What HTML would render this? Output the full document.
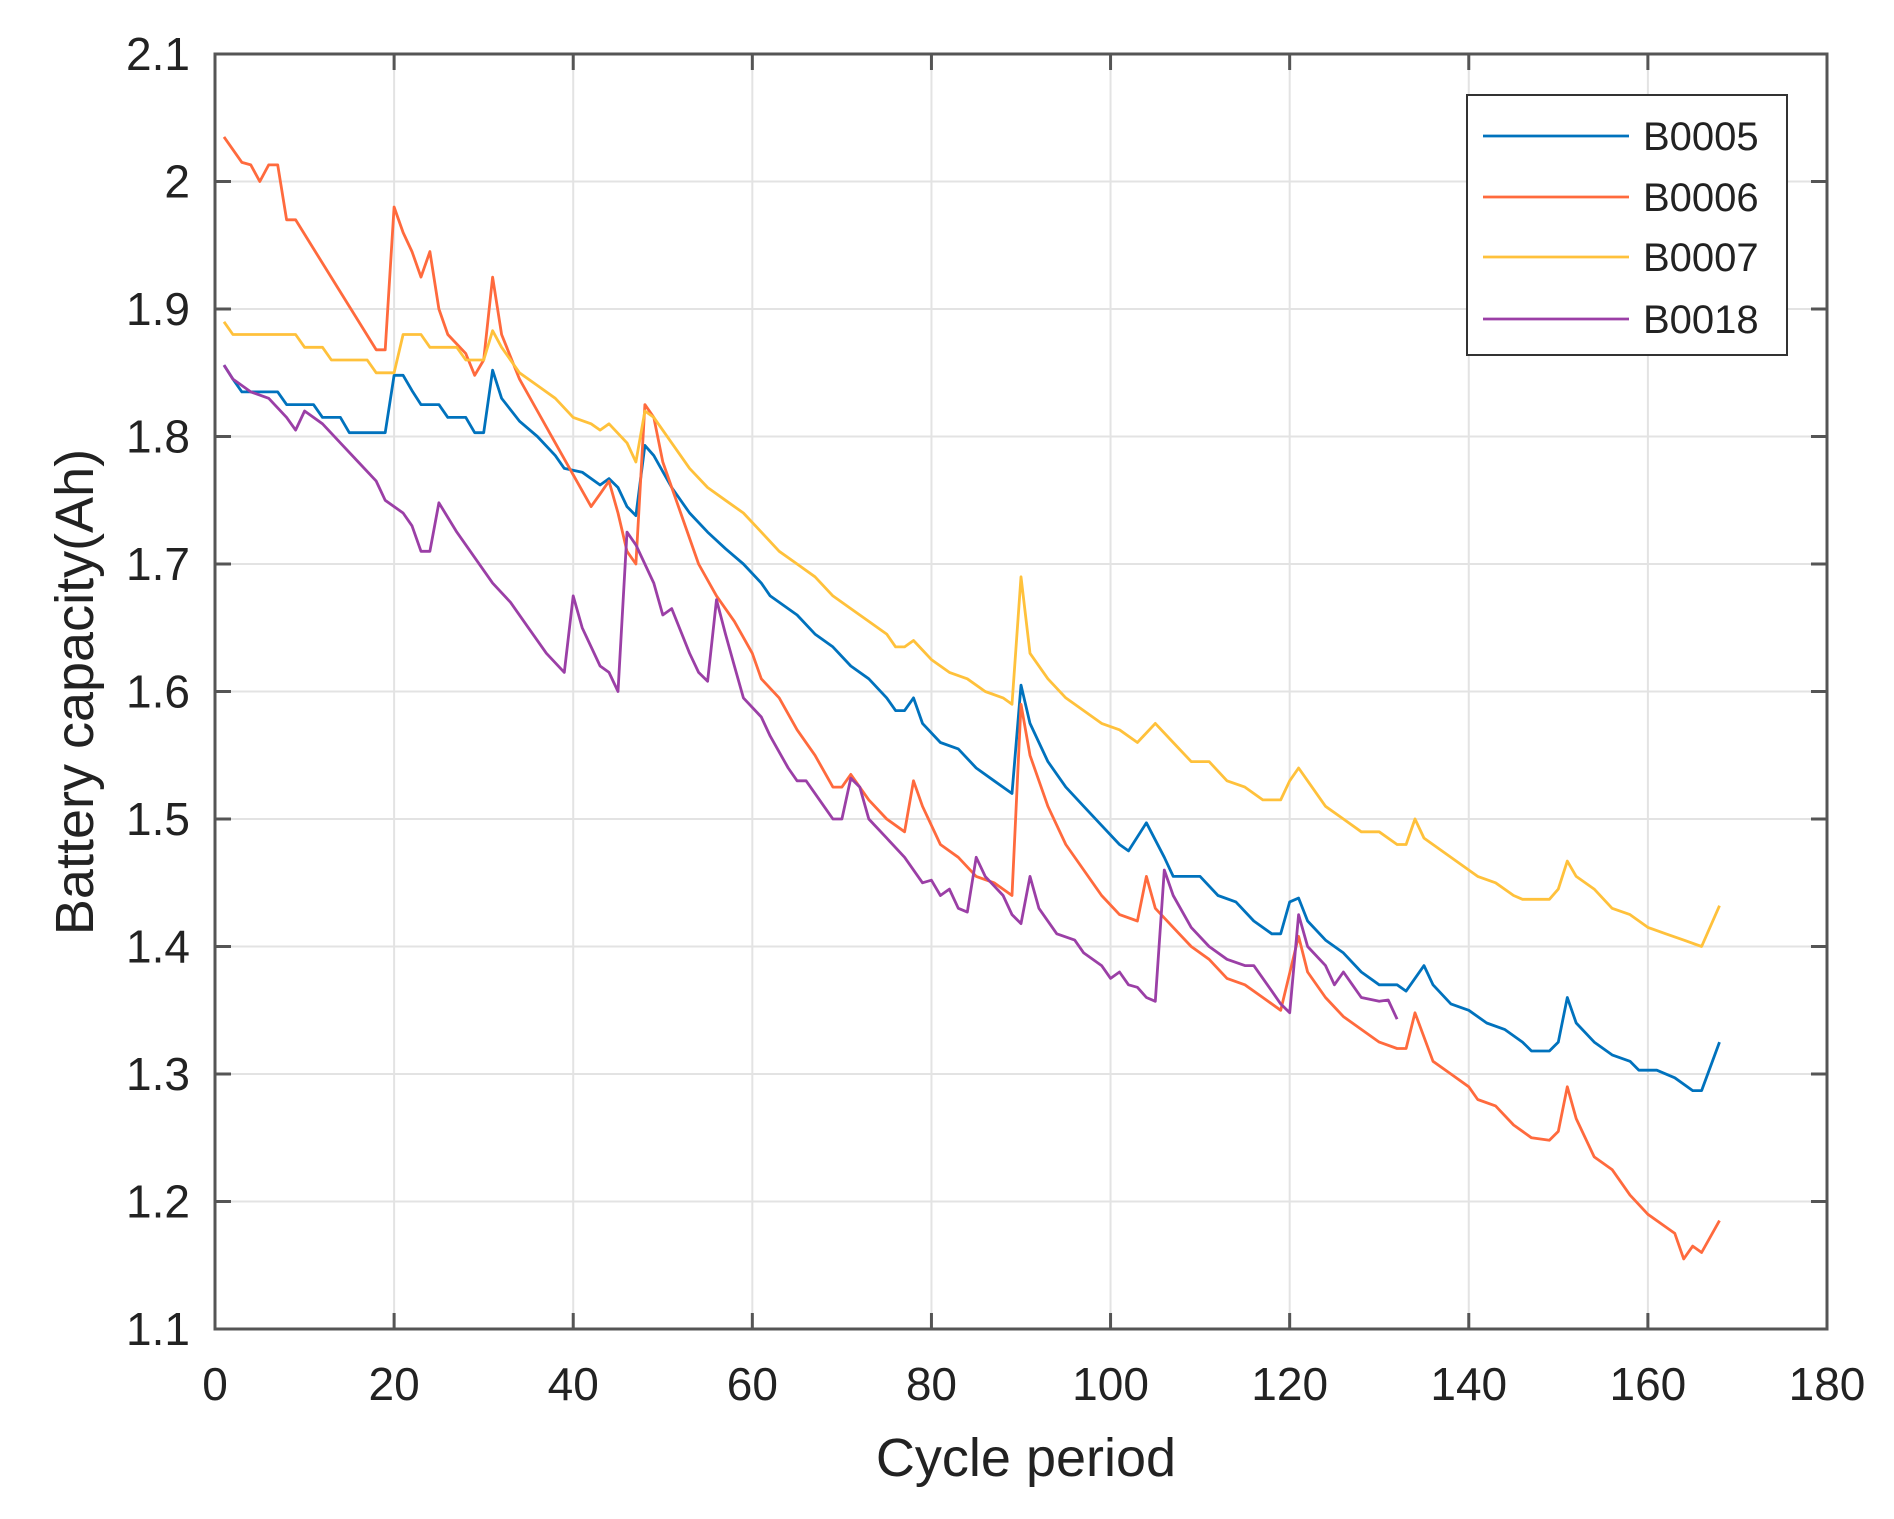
<!DOCTYPE html>
<html><head><meta charset="utf-8"><style>
html,body{margin:0;padding:0;background:#fff;}
svg{display:block;font-family:"Liberation Sans",Arial,sans-serif;}
</style></head><body>
<svg id="chart" width="1894" height="1519" viewBox="0 0 1894 1519" xmlns="http://www.w3.org/2000/svg">
<g id="grid"></g>
<g id="series"></g>
<g id="axes"></g>
<text x="1026" y="1476" font-size="54" text-anchor="middle" fill="#222">Cycle period</text>
<text transform="translate(93,692) rotate(-90)" font-size="54" text-anchor="middle" fill="#222">Battery capacity(Ah)</text>
<g id="legend"></g>
</svg>
<script>
const xTicks = [0,20,40,60,80,100,120,140,160,180];
const yTicks = [1.1,1.2,1.3,1.4,1.5,1.6,1.7,1.8,1.9,2.0,2.1];
const yTickLabels = ["1.1","1.2","1.3","1.4","1.5","1.6","1.7","1.8","1.9","2","2.1"];
const seriesNames = ["B0005","B0006","B0007","B0018"];
const b0005Cycles = [1,2,3,7,8,11,12,14,15,19,20,21,22,23,25,26,28,29,30,31,32,34,36,38,39,41,43,44,45,46,47,48,49,51,53,55,57,59,61,62,65,67,69,71,73,75,76,77,78,79,81,83,85,87,89,90,91,93,95,97,99,101,102,104,106,107,110,112,114,116,118,119,120,121,122,124,126,128,130,132,133,135,136,138,140,142,144,146,147,149,150,151,152,154,156,158,159,161,163,165,166,168];
const b0005Values = [1.856,1.845,1.835,1.835,1.825,1.825,1.815,1.815,1.803,1.803,1.848,1.848,1.836,1.825,1.825,1.815,1.815,1.803,1.803,1.852,1.83,1.812,1.8,1.785,1.775,1.772,1.762,1.767,1.76,1.745,1.738,1.793,1.785,1.76,1.74,1.725,1.712,1.7,1.685,1.675,1.66,1.645,1.635,1.62,1.61,1.595,1.585,1.585,1.595,1.575,1.56,1.555,1.54,1.53,1.52,1.605,1.575,1.545,1.525,1.51,1.495,1.48,1.475,1.497,1.47,1.455,1.455,1.44,1.435,1.42,1.41,1.41,1.435,1.438,1.42,1.405,1.395,1.38,1.37,1.37,1.365,1.385,1.37,1.355,1.35,1.34,1.335,1.325,1.318,1.318,1.325,1.36,1.34,1.325,1.315,1.31,1.303,1.303,1.297,1.287,1.287,1.325];
const b0006Cycles = [1,3,4,5,6,7,8,9,18,19,20,21,22,23,24,25,26,28,29,30,31,32,34,36,38,40,42,43,44,45,46,47,48,49,50,52,54,56,58,60,61,63,65,67,69,70,71,73,75,77,78,79,81,83,85,87,89,90,91,93,95,97,99,101,103,104,105,107,109,111,113,115,117,119,121,122,124,126,128,130,132,133,134,136,138,140,141,143,145,147,149,150,151,152,154,156,158,160,162,163,164,165,166,168];
const b0006Values = [2.035,2.015,2.013,2.0,2.013,2.013,1.97,1.97,1.868,1.868,1.98,1.96,1.945,1.925,1.945,1.9,1.88,1.865,1.848,1.86,1.925,1.88,1.845,1.82,1.795,1.77,1.745,1.755,1.765,1.74,1.71,1.70,1.825,1.815,1.78,1.74,1.70,1.675,1.655,1.63,1.61,1.595,1.57,1.55,1.525,1.525,1.535,1.515,1.5,1.49,1.53,1.51,1.48,1.47,1.455,1.45,1.44,1.59,1.55,1.51,1.48,1.46,1.44,1.425,1.42,1.455,1.43,1.415,1.4,1.39,1.375,1.37,1.36,1.35,1.408,1.38,1.36,1.345,1.335,1.325,1.32,1.32,1.348,1.31,1.30,1.29,1.28,1.275,1.26,1.25,1.248,1.255,1.29,1.265,1.235,1.225,1.205,1.19,1.18,1.175,1.155,1.165,1.16,1.185];
const b0007Cycles = [1,2,9,10,12,13,17,18,20,21,23,24,27,28,30,31,32,34,36,38,40,42,43,44,46,47,48,49,51,53,55,57,59,61,63,65,67,69,71,73,75,76,77,78,80,82,84,86,88,89,90,91,93,95,97,99,101,103,105,107,109,111,113,115,117,119,120,121,122,124,126,128,130,132,133,134,135,137,139,141,143,145,146,149,150,151,152,154,156,158,160,162,164,166,168];
const b0007Values = [1.89,1.88,1.88,1.87,1.87,1.86,1.86,1.85,1.85,1.88,1.88,1.87,1.87,1.86,1.86,1.883,1.87,1.85,1.84,1.83,1.815,1.81,1.805,1.81,1.795,1.78,1.82,1.815,1.795,1.775,1.76,1.75,1.74,1.725,1.71,1.7,1.69,1.675,1.665,1.655,1.645,1.635,1.635,1.64,1.625,1.615,1.61,1.6,1.595,1.59,1.69,1.63,1.61,1.595,1.585,1.575,1.57,1.56,1.575,1.56,1.545,1.545,1.53,1.525,1.515,1.515,1.53,1.54,1.53,1.51,1.5,1.49,1.49,1.48,1.48,1.5,1.485,1.475,1.465,1.455,1.45,1.44,1.437,1.437,1.445,1.467,1.455,1.445,1.43,1.425,1.415,1.41,1.405,1.4,1.432];
const b0018Cycles = [1,2,4,6,8,9,10,12,14,16,18,19,21,22,23,24,25,27,29,31,33,35,37,39,40,41,43,44,45,46,47,49,50,51,53,54,55,56,57,58,59,61,62,64,65,66,68,69,70,71,72,73,75,77,79,80,81,82,83,84,85,86,88,89,90,91,92,94,96,97,99,100,101,102,103,104,105,106,107,109,111,113,115,116,118,119,120,121,122,124,125,126,127,128,130,131,132];
const b0018Values = [1.856,1.845,1.835,1.83,1.815,1.805,1.82,1.81,1.795,1.78,1.765,1.75,1.74,1.73,1.71,1.71,1.748,1.725,1.705,1.685,1.67,1.65,1.63,1.615,1.675,1.65,1.62,1.615,1.6,1.725,1.715,1.685,1.66,1.665,1.63,1.615,1.608,1.672,1.645,1.62,1.595,1.58,1.565,1.54,1.53,1.53,1.51,1.5,1.5,1.532,1.525,1.5,1.485,1.47,1.45,1.452,1.44,1.445,1.43,1.427,1.47,1.455,1.44,1.425,1.418,1.455,1.43,1.41,1.405,1.395,1.385,1.375,1.38,1.37,1.368,1.36,1.357,1.46,1.44,1.415,1.4,1.39,1.385,1.385,1.365,1.355,1.348,1.425,1.4,1.385,1.37,1.38,1.37,1.36,1.357,1.358,1.343];

const NS = "http://www.w3.org/2000/svg";
const L = 215, R = 1827, T = 54, B = 1329;
function xScale(v){ return L + (v - 0) / 180 * (R - L); }
function yScale(v){ return B - (v - 1.1) / 1.0 * (B - T); }
function mk(tag, attrs, parent){ const e = document.createElementNS(NS, tag); for (const k in attrs) e.setAttribute(k, attrs[k]); parent.appendChild(e); return e; }

const grid = document.getElementById('grid');
const axes = document.getElementById('axes');
xTicks.forEach((t) => {
  const x = xScale(t);
  const gl = mk('line', {x1:x, x2:x, y1:T, y2:B, stroke:'#e3e3e3', 'stroke-width':2}, grid);
  
  
  const tk1 = mk('line', {x1:x, x2:x, y1:B, y2:B-16, stroke:'#555', 'stroke-width':3}, axes);
  
  
  const tk2 = mk('line', {x1:x, x2:x, y1:T, y2:T+16, stroke:'#555', 'stroke-width':3}, axes);
  
  
  const lb = mk('text', {x:x, y:1400, 'font-size':46, 'text-anchor':'middle', fill:'#222'}, axes);
  lb.textContent = String(t);
  
  
});
yTicks.forEach((t, i) => {
  const y = yScale(t);
  const gl = mk('line', {x1:L, x2:R, y1:y, y2:y, stroke:'#e3e3e3', 'stroke-width':2}, grid);
  
  
  const tk1 = mk('line', {x1:L, x2:L+16, y1:y, y2:y, stroke:'#555', 'stroke-width':3}, axes);
  
  
  const tk2 = mk('line', {x1:R, x2:R-16, y1:y, y2:y, stroke:'#555', 'stroke-width':3}, axes);
  
  
  const lb = mk('text', {x:190, y:y+16, 'font-size':46, 'text-anchor':'end', fill:'#222'}, axes);
  lb.textContent = yTickLabels[i];
  
  
});
const frame = mk('rect', {x:L, y:T, width:R-L, height:B-T, fill:'none', stroke:'#555', 'stroke-width':3}, axes);



const colors = ['#0072BD','#FF6A3D','#FFC13B','#9B3FA6'];
const allX = [b0005Cycles,b0006Cycles,b0007Cycles,b0018Cycles];
const allY = [b0005Values,b0006Values,b0007Values,b0018Values];
const sg = document.getElementById('series');
allX.forEach((xs, s) => {
  const pts = xs.map((c, i) => xScale(c).toFixed(1) + ',' + yScale(allY[s][i]).toFixed(1)).join(' ');
  const pl = mk('polyline', {points:pts, fill:'none', stroke:colors[s], 'stroke-width':2.8, 'stroke-linejoin':'round'}, sg);
  
  
});

const lg = document.getElementById('legend');
const box = mk('rect', {x:1467, y:95, width:320, height:260, fill:'#fff', stroke:'#333', 'stroke-width':2}, lg);


const rowY = [136,197,257,319];
seriesNames.forEach((n, i) => {
  const ll = mk('line', {x1:1483, x2:1629, y1:rowY[i], y2:rowY[i], stroke:colors[i], 'stroke-width':2.8}, lg);
  
  
  const lt = mk('text', {x:1643, y:rowY[i]+14, 'font-size':40, fill:'#222'}, lg);
  lt.textContent = n;
  
  
});
</script>
</body></html>
